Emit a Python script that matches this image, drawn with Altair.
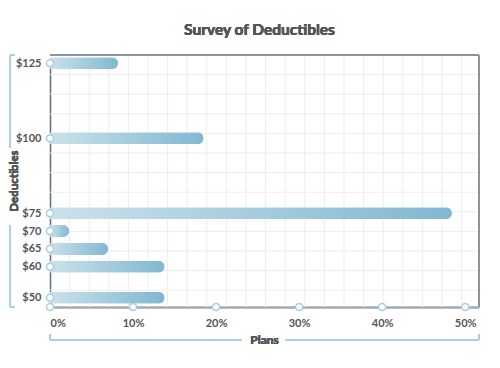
import altair as alt
import pandas as pd
import numpy as np

# ---- data ----
deductibles = [125, 100, 75, 70, 65, 60, 50]
plans_pct = [8.2, 18.5, 48.4, 2.3, 7.0, 13.8, 13.8]
x_ticks = [0, 10, 20, 30, 40, 50]
title_text = "Survey of Deductibles"
x_title = "Plans"
y_title = "Deductibles"

W, H = 429, 252
FONT = "Lato"
TXT = "#555555"
BRACKET = "#a9d1e3"

df = pd.DataFrame({"deductible": deductibles, "pct": plans_pct})
ticks_df = pd.DataFrame({"t": x_ticks})

xscale = alt.Scale(domain=[0, 51.66], nice=False, padding=0)
yscale = alt.Scale(domain=[50, 60, 75, 125], range=[242.7, 211.7, 158.3, 8.3], nice=False, padding=0)

# decorative background grid (independent pixel scales)
step = 19.6
gx = pd.DataFrame({"g": np.arange(step, W, step)})
gy = pd.DataFrame({"g": np.arange(step, H, step)})
grid_v = alt.Chart(gx).mark_rule(color="#ededed", strokeWidth=1).encode(
    x=alt.X("g:Q", scale=alt.Scale(domain=[0, W], range=[0, W], nice=False), axis=None)
)
grid_h = alt.Chart(gy).mark_rule(color="#ededed", strokeWidth=1).encode(
    y=alt.Y("g:Q", scale=alt.Scale(domain=[0, H], range=[0, H], nice=False), axis=None)
)
grid = alt.layer(grid_v, grid_h).resolve_scale(x="independent", y="independent")

gradient = alt.Gradient(
    gradient="linear",
    stops=[alt.GradientStop(color="#cbe1eb", offset=0), alt.GradientStop(color="#80b8d1", offset=1)],
    x1=0, x2=1, y1=0, y2=0,
)

xaxis = alt.Axis(
    values=x_ticks, labelExpr="datum.value + '%'", grid=False, ticks=False,
    domainColor="#a4a8b4", domainWidth=2.5, labelPadding=10, labelFontSize=11,
    title=None, zindex=0,
)
yaxis = alt.Axis(
    values=deductibles, labelExpr="'$' + datum.value", grid=False, ticks=False,
    domainColor="#5f6b7f", domainWidth=1.5, labelPadding=9, labelFontSize=11,
    title=None, zindex=0,
)

bars = alt.Chart(df).mark_bar(orient="horizontal", size=12, cornerRadiusEnd=6, color=gradient).encode(
    x=alt.X("pct:Q", scale=xscale, axis=xaxis),
    y=alt.Y("deductible:Q", scale=yscale, axis=yaxis),
)

start_pts = alt.Chart(df).mark_circle(
    fill="white", stroke="#a6cde0", strokeWidth=1.5, size=50, opacity=1
).encode(
    x=alt.datum(0, type="quantitative", scale=xscale),
    y=alt.Y("deductible:Q", scale=yscale),
)

axis_pts = alt.Chart(ticks_df).mark_circle(
    fill="white", stroke="#a6cde0", strokeWidth=1.5, size=50, opacity=1
).encode(
    x=alt.X("t:Q", scale=xscale),
    y=alt.value(H),
)

def seg(x, x2, y, y2, color=BRACKET, width=1.5):
    return alt.Chart(ticks_df).mark_rule(color=color, strokeWidth=width).encode(
        x=alt.value(x), x2=alt.value(x2), y=alt.value(y), y2=alt.value(y2)
    )

borders = [
    seg(0, W, 0, 0, "#8c929e", 1.5),
    seg(W, W, 0, H, "#8c929e", 1.5),
]

BX = -40
brackets = [
    seg(BX, BX, 0, 93), seg(BX, BX + 5, 0, 0),
    seg(BX, BX, 170, H), seg(BX, BX + 5, H, H),
    seg(0, 192, 285, 285), seg(235, W, 285, 285),
    seg(0, 0, 279, 285), seg(W, W, 279, 285),
]

def label(text, x, y, size, angle=0):
    return alt.Chart(ticks_df).mark_text(
        font=FONT, fontSize=size, fontWeight="bold", color=TXT,
        baseline="middle", align="center", angle=angle,
    ).encode(x=alt.value(x), y=alt.value(y), text=alt.value(text))

title = label(title_text, 209.5, -25, 15.5)
xt = label(x_title, W / 2, 285, 12)
yt = label(y_title, -35.5, H / 2, 11.5, angle=270)

main = alt.layer(*borders, bars, start_pts, axis_pts, *brackets, title, xt, yt)

chart = alt.layer(grid, main).resolve_scale(x="independent", y="independent").properties(
    width=W, height=H,
    autosize=alt.AutoSizeParams(type="none"),
    padding={"left": 42, "top": 47, "right": 13, "bottom": 45},
).configure_view(stroke=None).configure_axis(
    labelFont=FONT, labelFontWeight="bold", labelColor=TXT,
)

chart.save("out.html", embed_options={"renderer": "svg", "actions": False})
